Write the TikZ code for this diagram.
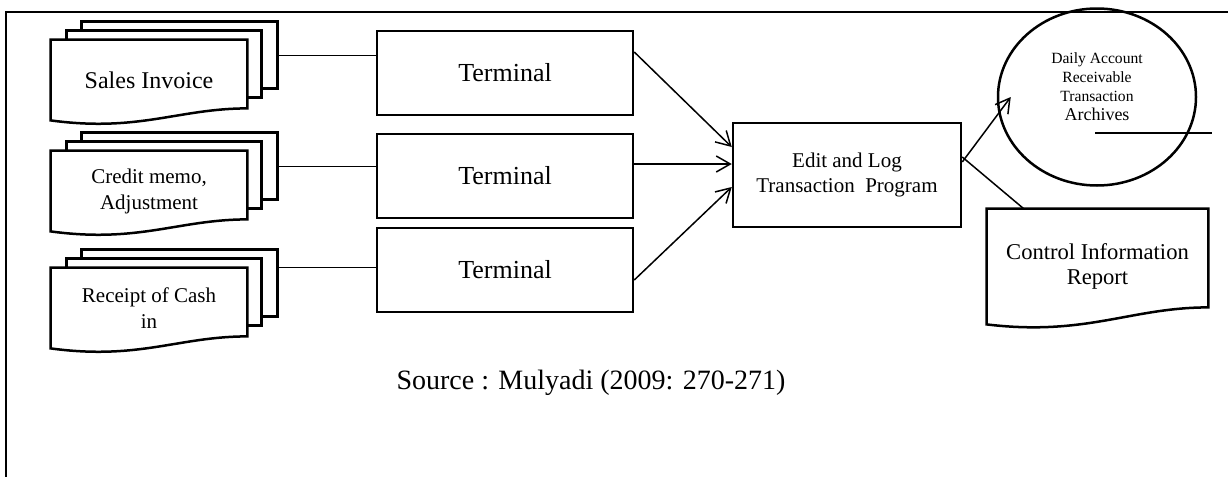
\documentclass[tikz,border=0pt]{standalone}
\usepackage{fontspec}
\setmainfont{Liberation Serif}
\usetikzlibrary{arrows.meta,positioning,calc,shapes.geometric,backgrounds}

\newcommand{\docpage}[2]{%
  \draw[page] (#1.south west) -- (#1.north west) -- (#1.north east) -- ([yshift=#2]#1.south east)
    .. controls ([yshift=#2]$(#1.south east)!0.35!(#1.south west)$)
    and ([yshift=-6pt]$(#1.south west)!0.45!(#1.south east)$) .. (#1.south west) -- cycle;
}
\newcommand{\docstack}[1]{%
  \begin{scope}[on background layer]
    \draw[page] ($(#1.north west)+(31,-18)$) rectangle ++(196,67);
    \draw[page] ($(#1.north west)+(16,-9)$) rectangle ++(195,67);
    \docpage{#1}{6pt}
  \end{scope}
  \coordinate (#1-out) at ($(#1.north west)+(227,16)$);
}

\begin{document}
\begin{tikzpicture}[
  x=0.5pt, y=-0.5pt,
  page/.style={line width=1.25pt,fill=white},
  doc/.style={minimum width=98pt,minimum height=40pt,inner sep=0pt,align=center},
  terminal/.style={draw,line width=1.25pt,minimum width=128pt,minimum height=42pt,font=\fontsize{13}{15}\selectfont},
  program/.style={draw,line width=1.25pt,minimum width=114pt,minimum height=52pt,align=center,font=\fontsize{10.5}{12.5}\selectfont},
  store/.style={ellipse,draw,line width=1.25pt,minimum width=99pt,minimum height=88.5pt},
  link/.style={line width=0.75pt},
  arrow/.style={link,-{Straight Barb[length=7pt,width=8pt]}}
]
\useasboundingbox (0,0) rectangle (1228,477);
\draw[line width=1pt] (6,477) |- (1228,12);

\node[doc,font=\fontsize{12}{14}\selectfont] (invoice) at (149,80) {Sales Invoice};
\node[doc,font=\fontsize{10.5}{13}\selectfont] (memo) at (149,191) {Credit memo,\\Adjustment};
\node[doc,font=\fontsize{10.5}{13}\selectfont] (receipt) at (149,308) {Receipt of Cash\\in};
\docstack{invoice}
\docstack{memo}
\docstack{receipt}

\node[terminal] (term1) at (505,73) {Terminal};
\node[terminal] (term2) at (505,176) {Terminal};
\node[terminal] (term3) at (505,270) {Terminal};

\node[program] (edit) at (847,175) {Edit and Log\\Transaction~ Program};

\node[store] (archive) at (1097,97) {};
\node[align=center,font=\fontsize{7.8}{9.5}\selectfont] (archivetext) at (1097,87)
  {Daily Account\\Receivable\\Transaction\\{\fontsize{9}{9.5}\selectfont Archives}};
\coordinate (archiveline) at ($(archive.center)+(-2,36)$);
\coordinate (archiveend) at ($(archive.center)+(115,36)$);

\node[doc,minimum width=110.5pt,minimum height=57.5pt,font=\fontsize{11.3}{12.5}\selectfont] (report) at (1097.5,266.5)
  {Control Information\\Report};
\begin{scope}[on background layer]
  \docpage{report}{8.5pt}
\end{scope}

\node[font=\fontsize{14}{16}\selectfont] (source) at (591,383) {Source : Mulyadi (2009: 270-271)};

\draw[link] (invoice-out) -- (invoice-out -| term1.west);
\draw[link] (memo-out) -- (memo-out -| term2.west);
\draw[link] ([yshift=8pt]receipt-out) -- ([yshift=8pt]receipt-out -| term3.west);
\draw[arrow] ([yshift=10.5pt]term1.east) -- ([yshift=14pt]edit.west);
\draw[arrow] ([yshift=6pt]term2.east) -- ([yshift=5.5pt]edit.west);
\draw[arrow] ([yshift=-5pt]term3.east) -- ([yshift=-6pt]edit.west);
\draw[arrow] ([yshift=6.5pt]edit.east) -- ([xshift=7pt]archive.west);
\draw[link] ([yshift=9pt]edit.east) -- ([xshift=18.5pt]report.north west);
\draw[link] (archiveline) -- (archiveend);
\end{tikzpicture}
\end{document}
